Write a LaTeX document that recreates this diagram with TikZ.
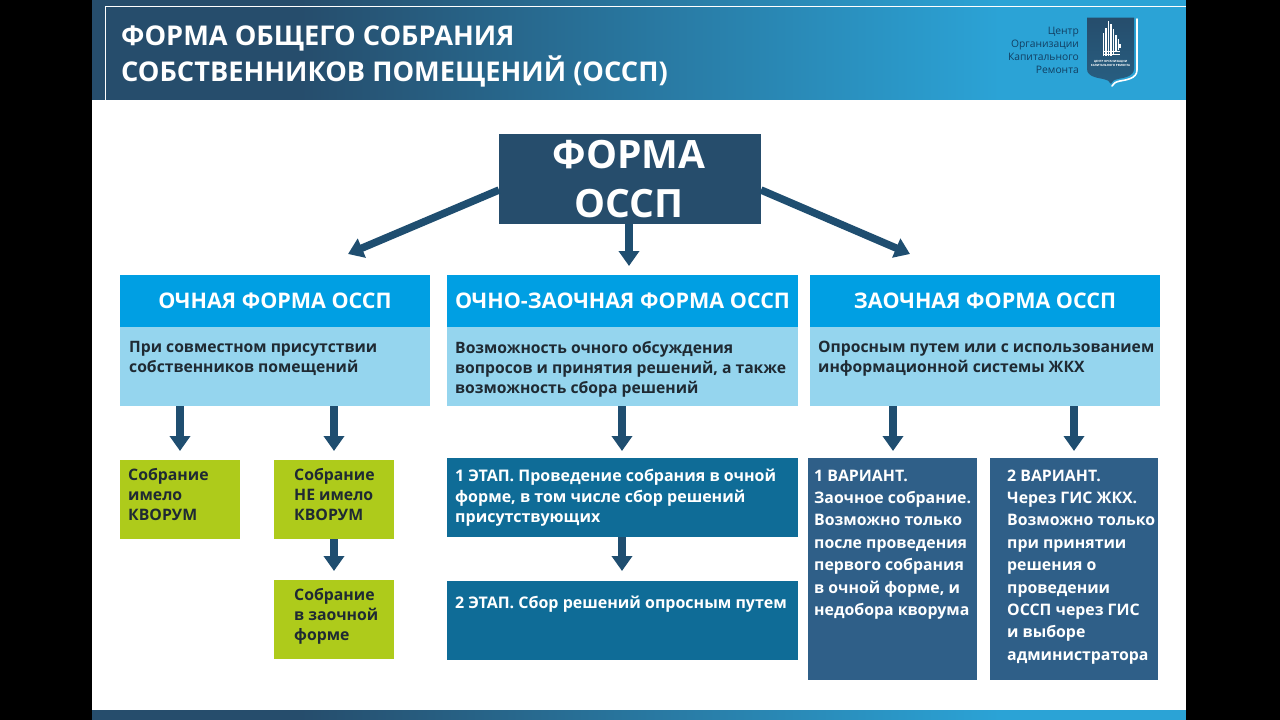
\documentclass[tikz,border=0pt]{standalone}
\usepackage{fontspec}
\setmainfont{Open Sans}
\usetikzlibrary{arrows.meta,positioning}
\definecolor{navy}{HTML}{264D6C}
\definecolor{skyb}{HTML}{2BA3D6}
\definecolor{hdr}{HTML}{009FE3}
\definecolor{lite}{HTML}{95D5EE}
\definecolor{grn}{HTML}{AECB1B}
\definecolor{teal2}{HTML}{0F6C97}
\definecolor{slate}{HTML}{2F5F88}
\definecolor{ink}{HTML}{1F2A33}
\definecolor{arrowc}{HTML}{1F4E70}
\definecolor{logot}{HTML}{123F62}
\tikzset{
 x=1pt,y=-1pt,
 box/.style={inner sep=0pt,outer sep=0pt,anchor=north west},
 headbox/.style={box,fill=hdr,text=white,font=\fontsize{21.5}{24}\selectfont\bfseries,align=center,minimum height=52pt},
 litebox/.style={box,fill=lite,minimum height=79pt},
 grnbox/.style={box,fill=grn,minimum width=120pt,minimum height=79pt},
 tealbox/.style={box,fill=teal2,minimum width=351pt,minimum height=79pt},
 slatebox/.style={box,fill=slate,minimum height=222pt},
 label/.style={anchor=north west,inner sep=0pt,align=left,font=\bfseries},
 littext/.style={label,text=ink,font=\fontsize{15.7}{20}\selectfont\bfseries},
 grntext/.style={label,text=ink,font=\fontsize{15.8}{20}\selectfont\bfseries},
 tealtext/.style={label,text=white,font=\fontsize{16}{20.5}\selectfont\bfseries},
 slatetext/.style={label,text=white,font=\fontsize{15.85}{22.4}\selectfont\bfseries},
 arr/.style={draw=arrowc,line width=7.5pt,-{Triangle[length=15pt,width=20pt]}},
}
\begin{document}
\begin{tikzpicture}
\useasboundingbox (0,0) rectangle (1280,720);
\fill[black] (0,0) rectangle (1280,720);
% banner
\fill[navy] (92,0) rectangle (300,100);
\shade[left color=navy,right color=skyb] (300,0) rectangle (1000,100);
\fill[skyb] (999.5,0) rectangle (1186,100);
% footer
\fill[navy] (92,710) rectangle (300,720);
\shade[left color=navy,right color=skyb] (300,710) rectangle (1000,720);
\fill[skyb] (999.5,710) rectangle (1186,720);
% page
\fill[white] (92,100) rectangle (1186,710);
\draw[white,line width=1.3pt] (105.5,100) -- (105.5,6.5) -- (1186,6.5);
\node[anchor=west,text=white,font=\fontsize{27.2}{36}\selectfont\bfseries,align=left,inner sep=0pt] (title) at (121,56) {ФОРМА ОБЩЕГО СОБРАНИЯ\\СОБСТВЕННИКОВ ПОМЕЩЕНИЙ (ОССП)};
% logo
\node[anchor=east,text=logot,font=\fontsize{10.3}{13}\selectfont,align=right,inner sep=0pt] (org) at (1079,50.5) {Центр\\Организации\\Капитального\\Ремонта};
\draw[white,line width=1.6pt,line cap=round] (1137,19) -- (1137,70) .. controls (1137,79) and (1125,80) .. (1120,81) .. controls (1116,82) and (1113,83) .. (1112,86);
\shade[top color=navy,bottom color=navy!80!skyb] (1087,17.5) -- (1134,17.5) -- (1134,69) .. controls (1134,77) and (1122,78) .. (1118,79) .. controls (1114,80) and (1112,81) .. (1111,84) .. controls (1110,81) and (1107,80) .. (1103,79) .. controls (1099,78) and (1087,77) .. (1087,69) -- cycle;
\foreach \xa/\ya/\yb in {1103.5/33/56,1106/28/56,1108.5/21/56,1111/24/56,1113.5/29/54,1116/35/52,1118.5/39/50,1120/44/48}{
 \draw[white,line width=1.7pt] (\xa,\ya) -- (\xa,\yb);}
\draw[white,line width=1pt] (1103,51) -- (1120,51) (1103,54) -- (1120,54);
\node[text=white,font=\fontsize{2.9}{4}\selectfont\bfseries,align=center,inner sep=0pt] (lg) at (1110.5,63.5) {ЦЕНТР ОРГАНИЗАЦИИ\\КАПИТАЛЬНОГО РЕМОНТА};
% main
\node[box,fill=navy,minimum width=262pt,minimum height=90pt] (main) at (499,134) {};
\node[text=white,font=\fontsize{39}{49}\selectfont\bfseries,align=center,inner sep=0pt] (maint) at (629,179) {ФОРМА\\ОССП};
% columns
\node[headbox,minimum width=310pt] (h1) at (120,275) {\raisebox{-1pt}{ОЧНАЯ ФОРМА ОССП}};
\node[headbox,minimum width=351pt] (h2) at (447,275) {\raisebox{-1pt}{ОЧНО-ЗАОЧНАЯ ФОРМА ОССП}};
\node[headbox,minimum width=350pt] (h3) at (810,275) {\raisebox{-1pt}{ЗАОЧНАЯ ФОРМА ОССП}};
\node[litebox,minimum width=310pt] (l1) at (120,327) {};
\node[litebox,minimum width=351pt] (l2) at (447,327) {};
\node[litebox,minimum width=350pt] (l3) at (810,327) {};
\node[littext] (t1) at (129,341) {При совместном присутствии\\собственников помещений};
\node[littext] (t2) at (455,341) {Возможность очного обсуждения\\вопросов и принятия решений, а также\\возможность сбора решений};
\node[littext] (t3) at (818,341) {Опросным путем или с использованием\\информационной системы ЖКХ};
% lower boxes
\node[grnbox] (g1) at (120,460) {};
\node[grnbox] (g2) at (274,460) {};
\node[grnbox] (g3) at (274,580) {};
\node[grntext] (g1t) at (128,468) {Собрание\\имело\\КВОРУМ};
\node[grntext] (g2t) at (294,468) {Собрание\\НЕ имело\\КВОРУМ};
\node[grntext] (g3t) at (294,588) {Собрание\\в заочной\\форме};
\node[tealbox] (e1) at (447,458) {};
\node[tealbox] (e2) at (447,581) {};
\node[tealtext] (e1t) at (455,469) {1 ЭТАП. Проведение собрания в очной\\форме, в том числе сбор решений\\присутствующих};
\node[tealtext] (e2t) at (455,596) {2 ЭТАП. Сбор решений опросным путем};
\node[slatebox,minimum width=169pt] (v1) at (808,458) {};
\node[slatebox,minimum width=168pt] (v2) at (990,458) {};
\node[slatetext] (v1t) at (814,469.5) {1 ВАРИАНТ.\\Заочное собрание.\\Возможно только\\после проведения\\первого собрания\\в очной форме, и\\недобора кворума};
\node[slatetext] (v2t) at (1007,469.5) {2 ВАРИАНТ.\\Через ГИС ЖКХ.\\Возможно только\\при принятии\\решения о\\проведении\\ОССП через ГИС\\и выборе\\администратора};
% arrow ends
\coordinate (c1) at (348,254);
\coordinate (c2) at (629,266);
\coordinate (c3) at (910,254);
\coordinate (a1) at (180,451); \coordinate (a2) at (334,451); \coordinate (a3) at (334,571);
\coordinate (a4) at (622,451); \coordinate (a5) at (622,571); \coordinate (a6) at (893,451); \coordinate (a7) at (1074,451);
\draw[arr] (main.west |- 0,190) -- (c1);
\draw[arr] (c2 |- main.south) -- (c2);
\draw[arr] (main.east |- 0,190) -- (c3);
\draw[arr] (a1 |- l1.south) -- (a1);
\draw[arr] (a2 |- l1.south) -- (a2);
\draw[arr] (a3 |- g2.south) -- (a3);
\draw[arr] (a4 |- l2.south) -- (a4);
\draw[arr] (a5 |- e1.south) -- (a5);
\draw[arr] (a6 |- l3.south) -- (a6);
\draw[arr] (a7 |- l3.south) -- (a7);
\end{tikzpicture}
\end{document}
